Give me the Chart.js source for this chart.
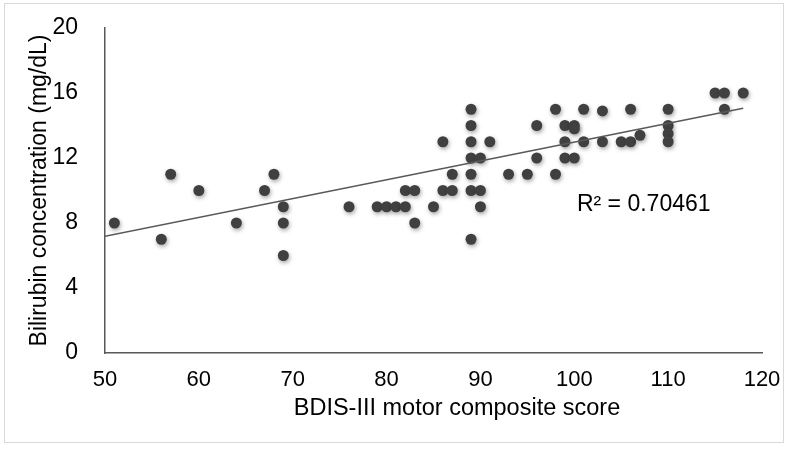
<!DOCTYPE html>
<html>
<head>
<meta charset="utf-8">
<script src="https://cdn.jsdelivr.net/npm/chart.js@4.4.1/dist/chart.umd.min.js"></script>
<style>
  html, body { margin: 0; padding: 0; background: #fff; }
  #wrap { position: relative; width: 800px; height: 450px; }
  #frame { position: absolute; left: 4px; top: 3px; width: 778px; height: 438px; border: 1px solid #d9d9d9; pointer-events: none; }
  canvas { position: absolute; left: 0; top: 0; }
</style>
</head>
<body>
<div id="wrap">
  <div id="frame"></div>
  <canvas id="myChart" width="800" height="450"></canvas>
</div>
<script>
// BDIS-III motor composite score vs bilirubin (mg/dL)
var scoreX = [51, 56, 57, 60, 64, 67, 68, 69, 69, 69,
  76, 79, 80, 81, 82, 82, 83, 83, 85, 86, 86, 87, 87,
  89, 89, 89, 89, 89, 89, 89, 90, 90, 90, 91, 93, 95, 96, 96, 98, 98,
  99, 99, 99, 100, 100, 100, 101, 101, 103, 103, 105, 106, 106, 107,
  110, 110, 110, 110, 115, 116, 116, 118];
var bilirubinY = [8, 7, 11, 10, 8, 10, 11, 9, 8, 6,
  9, 9, 9, 9, 9, 10, 10, 8, 9, 13, 10, 10, 11,
  15, 14, 13, 12, 11, 10, 7, 12, 10, 9, 13, 11, 11, 12, 14, 11, 15,
  14, 13, 12, 14, 13.8, 12, 15, 13, 14.9, 13, 13, 13, 15, 13.4,
  15, 14, 13.5, 13, 16, 16, 15, 16];

// linear trendline ends as drawn
var trendX = [50, 118];
var trendY = [7.18, 15.06];
var r2Label = "R² = 0.70461";
var r2Pos = { x: 107.4, y: 9.1 };

var xTicks = [50, 60, 70, 80, 90, 100, 110, 120];
var yTicks = [0, 4, 8, 12, 16, 20];

var xTitle = "BDIS-III motor composite score";
var yTitle = "Bilirubin concentration (mg/dL)";

var points = scoreX.map(function (x, i) { return { x: x, y: bilirubinY[i] }; });
var trend = trendX.map(function (x, i) { return { x: x, y: trendY[i] }; });

// soft shadow under the dots, like the office chart
var dotShadow = {
  id: "dotShadow",
  beforeDatasetDraw: function (chart, args) {
    if (args.index !== 1) return;
    var c = chart.ctx;
    c.save();
    c.shadowColor = "rgba(0,0,0,0.35)";
    c.shadowBlur = 4;
    c.shadowOffsetX = 1;
    c.shadowOffsetY = 2;
  },
  afterDatasetDraw: function (chart, args) {
    if (args.index !== 1) return;
    chart.ctx.restore();
  }
};

// x-axis title and R² text
var extraText = {
  id: "extraText",
  afterDraw: function (chart) {
    var c = chart.ctx;
    var xs = chart.scales.x, ys = chart.scales.y;
    c.save();
    c.fillStyle = "#000";
    c.textAlign = "center";
    c.textBaseline = "middle";
    c.font = "23.5px 'Liberation Sans', Arial, sans-serif";
    c.fillText(xTitle, 457, 409);
    c.font = "23px 'Liberation Sans', Arial, sans-serif";
    c.fillText(r2Label, xs.getPixelForValue(r2Pos.x), ys.getPixelForValue(r2Pos.y));
    c.restore();
  }
};

var ctx = document.getElementById("myChart").getContext("2d");
var myChart = new Chart(ctx, {
  type: "scatter",
  data: {
    datasets: [
      {
        type: "line",
        label: "Trend",
        data: trend,
        borderColor: "#595959",
        borderWidth: 1.5,
        pointRadius: 0,
        fill: false,
      },
      {
        label: "Subjects",
        data: points,
        backgroundColor: "#404040",
        borderColor: "#404040",
        borderWidth: 0,
        pointRadius: 5.5,
      },
    ],
  },
  options: {
    responsive: false,
    animation: false,
    layout: { padding: { left: 0, right: 38, top: 28, bottom: 0 } },
    plugins: { legend: { display: false }, tooltip: { enabled: false } },
    scales: {
      x: {
        type: "linear",
        min: 50,
        max: 120,
        afterBuildTicks: function (s) { s.ticks = xTicks.map(function (v) { return { value: v }; }); },
        ticks: { color: "#000", padding: 14, font: { family: "'Liberation Sans', Arial", size: 22 } },
        grid: { display: false, drawTicks: false },
        border: { display: true, color: "#595959", width: 1.5 },
        afterFit: function (s) { s.height = 97; },
      },
      y: {
        min: 0,
        max: 20,
        afterBuildTicks: function (s) { s.ticks = yTicks.map(function (v) { return { value: v }; }); },
        ticks: { color: "#000", padding: 27, font: { family: "'Liberation Sans', Arial", size: 23 } },
        grid: { display: false, drawTicks: false },
        border: { display: true, color: "#595959", width: 1.5 },
        title: {
          display: true,
          text: yTitle,
          color: "#000",
          padding: { top: 26, bottom: 0 },
          font: { family: "'Liberation Sans', Arial", size: 23 },
        },
        afterFit: function (s) {
          s.width = 105;
          s.paddingTop = 12;
          s.paddingBottom = 12;
        },
      },
    },
  },
  plugins: [dotShadow, extraText],
});
</script>
</body>
</html>
